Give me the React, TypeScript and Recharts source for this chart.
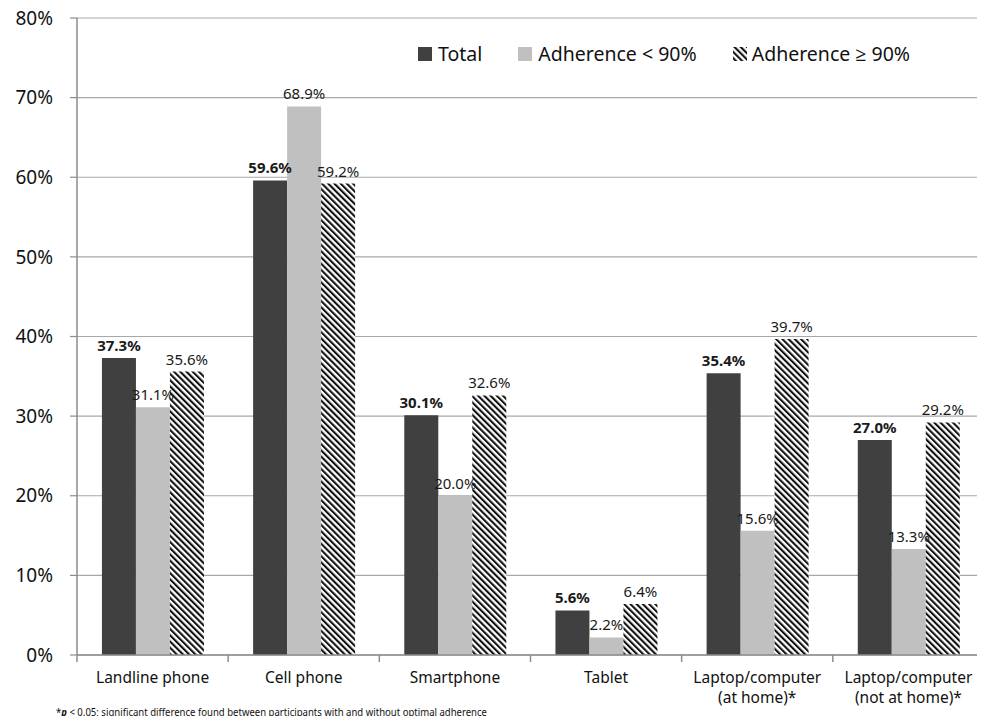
import React from 'react';
import { BarChart, Bar, XAxis, YAxis, CartesianGrid, LabelList } from 'recharts';

const categories = [
  'Landline phone',
  'Cell phone',
  'Smartphone',
  'Tablet',
  'Laptop/computer\n(at home)*',
  'Laptop/computer\n(not at home)*',
];
const total = [37.3, 59.6, 30.1, 5.6, 35.4, 27.0];
const adherenceLow = [31.1, 68.9, 20.0, 2.2, 15.6, 13.3];
const adherenceHigh = [35.6, 59.2, 32.6, 6.4, 39.7, 29.2];
const yTicks = [0, 10, 20, 30, 40, 50, 60, 70, 80];

const data = categories.map((name, i) => ({
  name,
  total: total[i],
  low: adherenceLow[i],
  high: adherenceHigh[i],
}));

const FONT = '"Noto Sans", "Open Sans", sans-serif';
const DARK = '#404040';
const LIGHT = '#c0c0c0';
const AXIS = '#8c8c8c';

function HatchPattern({ id }: { id: string }) {
  return (
    <pattern id={id} patternUnits="userSpaceOnUse" width={4.4} height={4.4} patternTransform="rotate(-45)">
      <rect x={0} y={0} width={4.4} height={4.4} fill="#fff" />
      <rect x={0} y={0} width={2.1} height={4.4} fill="#111" />
    </pattern>
  );
}

// category tick: label (possibly two lines) plus a small tick mark at the band's left edge
function CategoryTick(props: any) {
  const { x, y, payload, index, visibleTicksCount } = props;
  const band = 151.2;
  const lines = String(payload.value).split('\n');
  return (
    <g>
      <line x1={x - band / 2} x2={x - band / 2} y1={y - 8} y2={y - 1} stroke={AXIS} strokeWidth={1.5} />
      {index === visibleTicksCount - 1 && (
        <line x1={x + band / 2} x2={x + band / 2} y1={y - 8} y2={y - 1} stroke={AXIS} strokeWidth={1.5} />
      )}
      {lines.map((l, i) => (
        <text key={i} x={x} y={y + 20 + i * 20} textAnchor="middle" fontSize={15.5} fontFamily={FONT} fill="#111">
          {l}
        </text>
      ))}
    </g>
  );
}

function makeLabel(weight: number) {
  return (props: any) => {
    const { x, y, width, value } = props;
    return (
      <text x={x + width / 2} y={y - 7} textAnchor="middle" fontSize={15} fontWeight={weight} fontFamily={FONT} fill="#1a1a1a">
        {Number(value).toFixed(1)}%
      </text>
    );
  };
}

function LegendBox() {
  const item = { display: 'flex', alignItems: 'center', marginRight: 36 } as const;
  const text = { fontSize: 19.5, fontFamily: FONT, color: '#111' } as const;
  return (
    <div style={{ position: 'absolute', top: 40, left: 418, display: 'flex', alignItems: 'center' }}>
      <div style={item}>
        <div style={{ width: 14, height: 14, background: DARK, marginRight: 6 }} />
        <span style={text}>Total</span>
      </div>
      <div style={item}>
        <div style={{ width: 14, height: 14, background: LIGHT, marginRight: 6 }} />
        <span style={text}>Adherence &lt; 90%</span>
      </div>
      <div style={item}>
        <svg width={14} height={14} style={{ marginRight: 5 }}>
          <defs>
            <HatchPattern id="hatchLegend" />
          </defs>
          <rect width={14} height={14} fill="url(#hatchLegend)" />
        </svg>
        <span style={text}>Adherence ≥ 90%</span>
      </div>
    </div>
  );
}

export default function App() {
  return (
    <div style={{ position: 'relative', width: 985, height: 724, margin: -8, background: '#fff' }}>
      <BarChart
        width={985}
        height={724}
        data={data}
        margin={{ top: 18, right: 1, left: 0, bottom: 0 }}
        barCategoryGap="16.5%"
        barGap={0}
      >
        <defs>
          <HatchPattern id="hatchBar" />
        </defs>
        <CartesianGrid vertical={false} stroke="#a8a8a8" strokeWidth={1.2} />
        <XAxis
          dataKey="name"
          height={69}
          interval={0}
          axisLine={{ stroke: AXIS, strokeWidth: 1.5 }}
          tickLine={false}
          tick={<CategoryTick />}
        />
        <YAxis
          width={77}
          domain={[0, 80]}
          ticks={yTicks}
          interval={0}
          axisLine={{ stroke: AXIS, strokeWidth: 1.5 }}
          tickLine={{ stroke: AXIS, strokeWidth: 1.2 }}
          tickSize={7}
          tickMargin={17}
          tickFormatter={(v: number) => `${v}%`}
          tick={{ fontSize: 19, fontFamily: FONT, fill: '#111' }}
        />
        <Bar dataKey="total" name="Total" fill={DARK} isAnimationActive={false}>
          <LabelList dataKey="total" content={makeLabel(700)} />
        </Bar>
        <Bar dataKey="low" name="Adherence < 90%" fill={LIGHT} isAnimationActive={false}>
          <LabelList dataKey="low" content={makeLabel(400)} />
        </Bar>
        <Bar dataKey="high" name="Adherence ≥ 90%" fill="url(#hatchBar)" isAnimationActive={false}>
          <LabelList dataKey="high" content={makeLabel(400)} />
        </Bar>
      </BarChart>
      <LegendBox />
      <svg width={500} height={20} style={{ position: 'absolute', left: 56, top: 703 }}>
        <text x={0} y={13} fontSize={11} fontFamily={FONT} fill="#111" textLength={431} lengthAdjust="spacingAndGlyphs">
          *<tspan fontStyle="italic" fontWeight={700}>p</tspan> &lt; 0.05; significant difference found between participants with and without optimal adherence
        </text>
      </svg>
    </div>
  );
}
